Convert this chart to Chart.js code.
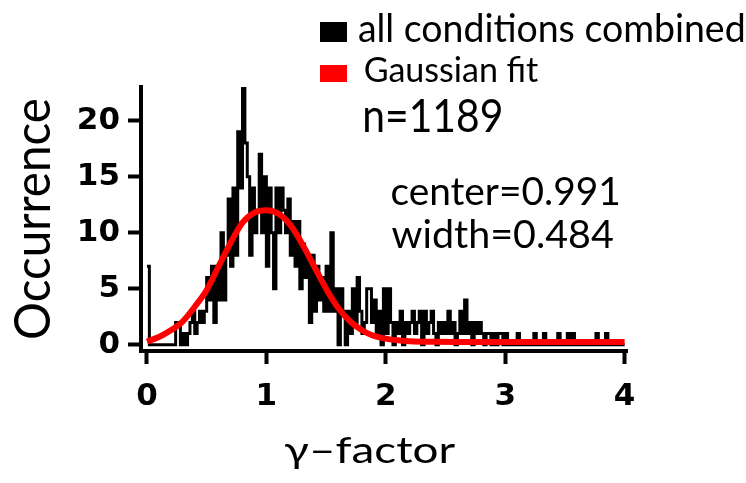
<!DOCTYPE html>
<html>
<head>
<meta charset="utf-8">
<script src="https://cdn.jsdelivr.net/npm/chart.js@4.4.1/dist/chart.umd.min.js"></script>
<style>
  html, body { margin: 0; padding: 0; background: #fff; }
  canvas { display: block; }
</style>
</head>
<body>
<canvas id="chart" width="746" height="483"></canvas>
<script>
// histogram of gamma-factor, bins of 0.02 starting at 0
const BIN_WIDTH = 0.02;
const counts = [
  7, 0, 0, 0, 0, 0, 0, 0, 0, 0,
  0, 0, 2, 2, 0, 1, 0, 1, 2, 3,
  1, 2, 3, 2, 3, 6, 4, 7, 2, 7,
  4, 10, 4, 8, 13, 7, 14, 8, 19, 14,
  23, 18, 15, 8, 14, 10, 12, 17, 10, 15,
  7, 14, 10, 5, 14, 10, 14, 12, 10, 13,
  8, 11, 7, 11, 5, 9, 6, 8, 2, 8,
  3, 7, 4, 6, 3, 7, 3, 10, 3, 5,
  0, 5, 3, 0, 3, 1, 5, 2, 6, 3,
  1, 2, 5, 5, 2, 4, 1, 3, 0, 5,
  1, 5, 2, 0, 2, 1, 3, 0, 2, 1,
  2, 3, 1, 2, 3, 0, 3, 1, 2, 3,
  1, 0, 2, 1, 2, 1, 3, 1, 2, 0,
  1, 3, 1, 4, 1, 2, 0, 2, 1, 2,
  1, 0, 1, 1, 0, 1, 0, 1, 1, 0,
  1, 0, 0, 0, 0, 1, 0, 0, 0, 0,
  0, 0, 1, 0, 0, 0, 1, 0, 0, 0,
  0, 0, 1, 0, 0, 0, 1, 0, 1, 0,
  0, 0, 0, 0, 0, 0, 0, 0, 1, 0,
  0, 0, 1, 0, 0, 0, 0, 0, 0, 0,
];

// fitted curve
const fitX = [0, 0.1, 0.2, 0.3, 0.4, 0.5, 0.6, 0.7, 0.8, 0.9, 1.0, 1.1, 1.2, 1.3, 1.4,
  1.5, 1.6, 1.7, 1.8, 1.9, 2.0, 2.1, 2.2, 2.4, 2.6, 3.0, 3.5, 4.0];
const fitY = [0.3, 0.7, 1.3, 2.1, 3.4, 4.9, 7.0, 9.1, 10.9, 11.8, 12.0, 11.7, 10.7, 9.0, 7.0,
  5.0, 3.3, 2.1, 1.3, 0.8, 0.55, 0.4, 0.33, 0.28, 0.26, 0.25, 0.25, 0.25];

const xTicks = [0, 1, 2, 3, 4];
const yTicks = [0, 5, 10, 15, 20];

const TEXT_FONT = 'Lato, "Open Sans", sans-serif';

const histPoints = counts.map((c, i) => ({ x: i * BIN_WIDTH, y: c }));
histPoints.push({ x: counts.length * BIN_WIDTH, y: 0 });

// draw text so its ink box lands on a given left edge / baseline / width
// (ascent optional: stretches vertically when given)
function fitText(ctx, text, left, baseline, width, ascent) {
  ctx.save();
  ctx.font = "100px " + TEXT_FONT;
  ctx.textBaseline = "alphabetic";
  ctx.textAlign = "left";
  const m = ctx.measureText(text);
  const inkW = m.actualBoundingBoxRight + m.actualBoundingBoxLeft;
  const sx = width / inkW;
  const sy = ascent ? ascent / m.actualBoundingBoxAscent : sx;
  ctx.translate(left, baseline);
  ctx.scale(sx, sy);
  ctx.fillText(text, m.actualBoundingBoxLeft, 0);
  ctx.restore();
}

const annotations = {
  id: "annotations",
  afterDraw(chart) {
    const ctx = chart.ctx;
    ctx.save();
    ctx.fillStyle = "#000";
    ctx.fillRect(320, 22, 27, 20);
    ctx.fillStyle = "#ff0000";
    ctx.fillRect(320, 65, 27, 17);
    ctx.fillStyle = "#000";
    fitText(ctx, "all conditions combined", 359, 42, 384, 28);
    fitText(ctx, "Gaussian fit", 365, 82, 173, 25);
    fitText(ctx, "n=1189", 365, 132, 136, 34);
    fitText(ctx, "center=0.991", 392, 205, 226, 28);
    fitText(ctx, "width=0.484", 392, 248, 221, 29);
    fitText(ctx, "γ–factor", 285, 463, 170, 27);
    // y axis title, reading bottom to top
    ctx.translate(50, 338);
    ctx.rotate(-Math.PI / 2);
    fitText(ctx, "Occurrence", 0, 0, 238, 37);
    ctx.restore();
  },
};

const tickFont = { family: '"DejaVu Sans", sans-serif', size: 31, weight: "bold" };
const axisGrid = {
  drawOnChartArea: false,
  drawTicks: true,
  tickLength: 13,
  tickWidth: 4,
  tickColor: "#000",
  color: "#000",
};

new Chart(document.getElementById("chart"), {
  type: "line",
  data: {
    datasets: [
      {
        label: "Gaussian fit",
        data: fitX.map((x, i) => ({ x, y: fitY[i] })),
        borderColor: "#ff0000",
        borderWidth: 6,
        pointRadius: 0,
        cubicInterpolationMode: "monotone",
        order: 0,
      },
      {
        label: "all conditions combined",
        data: histPoints,
        stepped: "before",
        borderColor: "#000",
        borderWidth: 3,
        pointRadius: 0,
        order: 1,
      },
    ],
  },
  options: {
    responsive: false,
    animation: false,
    layout: { padding: { top: 87, right: 119, left: 0, bottom: 0 } },
    plugins: { legend: { display: false }, tooltip: { enabled: false } },
    scales: {
      x: {
        type: "linear",
        min: -0.05,
        max: 4.02,
        afterBuildTicks: (s) => { s.ticks = xTicks.map((v) => ({ value: v })); },
        afterFit: (s) => { s.height = 132; },
        grid: axisGrid,
        border: { color: "#000", width: 4 },
        ticks: { color: "#000", font: tickFont, padding: 14, maxRotation: 0 },
      },
      y: {
        min: -0.55,
        max: 23,
        afterBuildTicks: (s) => { s.ticks = yTicks.map((v) => ({ value: v })); },
        afterFit: (s) => { s.width = 141; },
        grid: axisGrid,
        border: { color: "#000", width: 4 },
        ticks: { color: "#000", font: tickFont, padding: 8 },
      },
    },
  },
  plugins: [annotations],
});
</script>
</body>
</html>
